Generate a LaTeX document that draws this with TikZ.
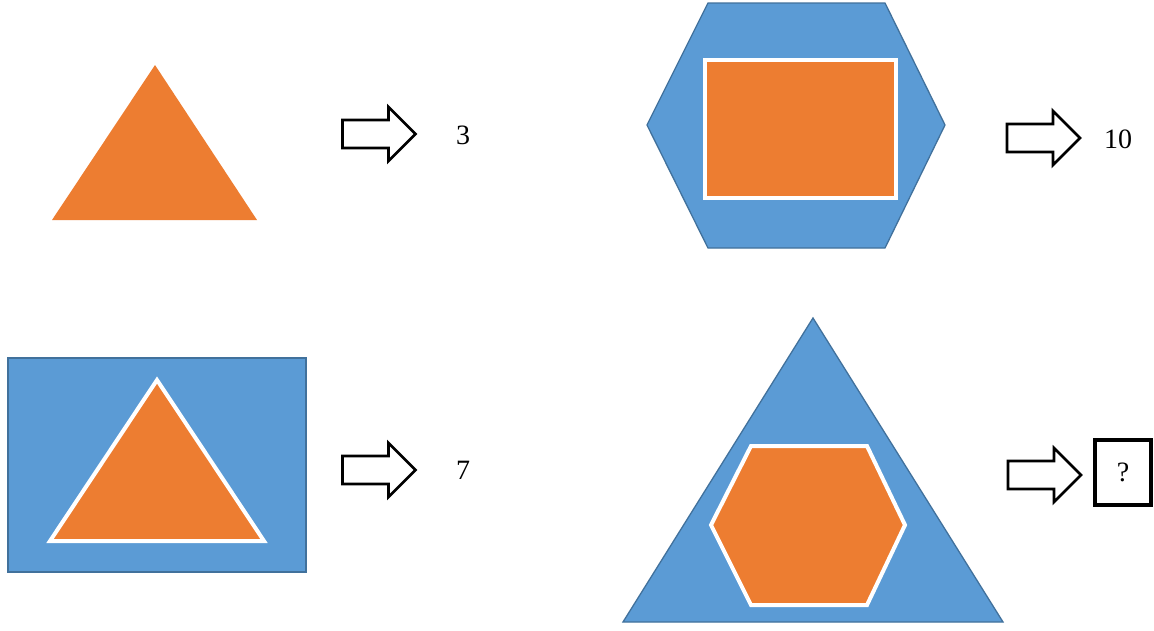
\documentclass[tikz,border=0pt]{standalone}
\usepackage{fontspec}
\setmainfont{Liberation Serif}
\definecolor{shapeorange}{HTML}{ED7D31}
\definecolor{shapeblue}{HTML}{5B9BD5}
\definecolor{blueedge}{HTML}{41719C}
\tikzset{
  outer/.style={fill=shapeblue, draw=blueedge, line width=1.3pt, line join=miter},
  inner/.style={fill=shapeorange, draw=white, line width=4pt, line join=miter},
  plain/.style={fill=shapeorange},
  arrowline/.style={draw=black, line width=2.7pt, fill=white, line join=miter},
  label/.style={font=\fontsize{28}{30}\selectfont, inner sep=0pt},
  blockarrow/.pic={\draw[arrowline] (-36,-14) -- (10,-14) -- (10,-27) -- (37,0) -- (10,27) -- (10,14) -- (-36,14) -- cycle;}
}
\begin{document}
\begin{tikzpicture}[x=1pt,y=-1pt]
\useasboundingbox (0,0) rectangle (1154,630);
\fill[white] (0,0) rectangle (1154,630);
% panel 1
\fill[plain] (155,65) -- (257,220) -- (52,220) -- cycle;
\pic at (378.5,134) {blockarrow};
\node[label] (n3) at (463,135) {3};
% panel 2
\draw[outer] (708,3) -- (885,3) -- (945,125) -- (885,248) -- (708,248) -- (647,125) -- cycle;
\draw[inner] (704.5,59.5) rectangle (896,197.5);
\pic at (1043,138) {blockarrow};
\node[label] (n10) at (1118,139) {10};
% panel 3
\draw[outer] (8,358) rectangle (306,572);
\draw[inner] (157,380) -- (264,541) -- (50,541) -- cycle;
\pic at (378.5,470) {blockarrow};
\node[label] (n7) at (463,470) {7};
% panel 4
\draw[outer] (813,318) -- (1003,622) -- (623,622) -- cycle;
\draw[inner] (751,446) -- (867,446) -- (905,525) -- (867,605) -- (751,605) -- (711,525) -- cycle;
\pic at (1044,475) {blockarrow};
\node[label, draw=black, line width=3.5pt, minimum width=56pt, minimum height=65pt] (q) at (1123,472.5) {?};
\end{tikzpicture}
\end{document}
